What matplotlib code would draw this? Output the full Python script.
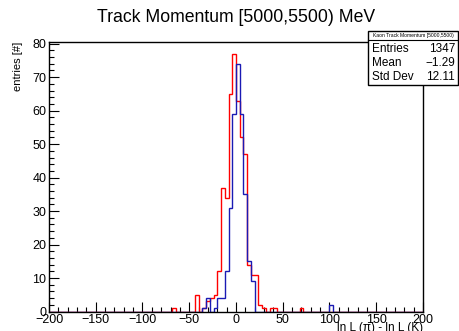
import numpy as np
import matplotlib.pyplot as plt
from matplotlib.patches import Rectangle

plt.rcParams['font.family'] = ['Liberation Sans', 'DejaVu Sans']

# bin edges: 100 bins of width 4 from -200 to 200
edges = np.arange(-200, 201, 4)

# red histogram (left edge of bin, counts)
red_left = [-68, -44, -36, -32, -28, -24, -20, -16, -12, -8, -4, 0, 4, 8,
            12, 16, 20, 24, 28, 36, 40, 68]
red_counts = [1, 5, 1, 3, 4, 5, 12, 37, 34, 65, 77, 63, 52, 47,
              14, 11, 11, 2, 1, 1, 1, 1]

# blue histogram
blue_left = [-36, -32, -24, -20, -16, -12, -8, -4, 0, 4, 8, 12, 16, 100]
blue_counts = [1, 4, 1, 4, 4, 12, 31, 59, 74, 59, 35, 15, 9, 2]

W, H = 460, 331
fig = plt.figure(figsize=(W / 100, H / 100), dpi=100)
ax = fig.add_axes([49 / W, 1 - 311.5 / H, (423 - 49) / W, (311.5 - 42) / H])

ax.hist(np.array(red_left) + 2, bins=edges, weights=red_counts,
        histtype='step', color='#ff0000', lw=1)
ax.hist(np.array(blue_left) + 2, bins=edges, weights=blue_counts,
        histtype='step', color='#1a1ab4', lw=1)

ax.set_xlim(-200, 200)
ax.set_ylim(0, 80.5)
ax.set_xticks(np.arange(-200, 201, 50))
ax.set_xticks(np.arange(-200, 201, 10), minor=True)
ax.set_yticks(np.arange(0, 81, 10))
ax.set_yticks(np.arange(0, 81, 2), minor=True)
ax.tick_params(which='both', direction='in', top=False, right=False,
               labelsize=9, width=0.8, pad=2)
ax.tick_params(which='major', length=7)
ax.tick_params(which='minor', length=3.5)
ax.xaxis.set_major_formatter(lambda v, p: f'{v:.0f}'.replace('-', '\u2212'))
for s in ax.spines.values():
    s.set_linewidth(1)

fig.text(236 / W, 1 - 18 / H, 'Track Momentum [5000,5500) MeV',
         ha='center', va='center', fontsize=12.7)
fig.text(18 / W, 1 - 42 / H, 'entries [#]', rotation=90,
         ha='center', va='top', fontsize=8)
fig.text(423 / W, 1 - 322 / H, 'ln L (\u03c0) - ln L (K)',
         ha='right', va='top', fontsize=8.5)

# stats box
x0, x1, y0, y1, ysep = 368, 458, 31, 85, 40
fig.patches.append(Rectangle((x0 / W, 1 - y1 / H), (x1 - x0) / W, (y1 - y0) / H,
                             transform=fig.transFigure, facecolor='white',
                             edgecolor='black', lw=1, zorder=5))
fig.lines.append(plt.Line2D([x0 / W, x1 / W], [1 - ysep / H, 1 - ysep / H],
                            transform=fig.transFigure, color='black', lw=0.8,
                            zorder=6))
fig.text((x0 + x1) / 2 / W, 1 - (y0 + ysep) / 2 / H,
         'Kaon Track Momentum [5000,5500)', ha='center', va='center',
         fontsize=3.6, zorder=7)
rows = [('Entries', '1347'), ('Mean', '\u22121.29'), ('Std Dev', '12.11')]
for i, (k, v) in enumerate(rows):
    yy = 1 - (49 + 14 * i) / H
    fig.text(372 / W, yy, k, ha='left', va='center', fontsize=8.5, zorder=7)
    fig.text(455 / W, yy, v, ha='right', va='center', fontsize=8.5, zorder=7)

fig.savefig('out.png', dpi=100)
